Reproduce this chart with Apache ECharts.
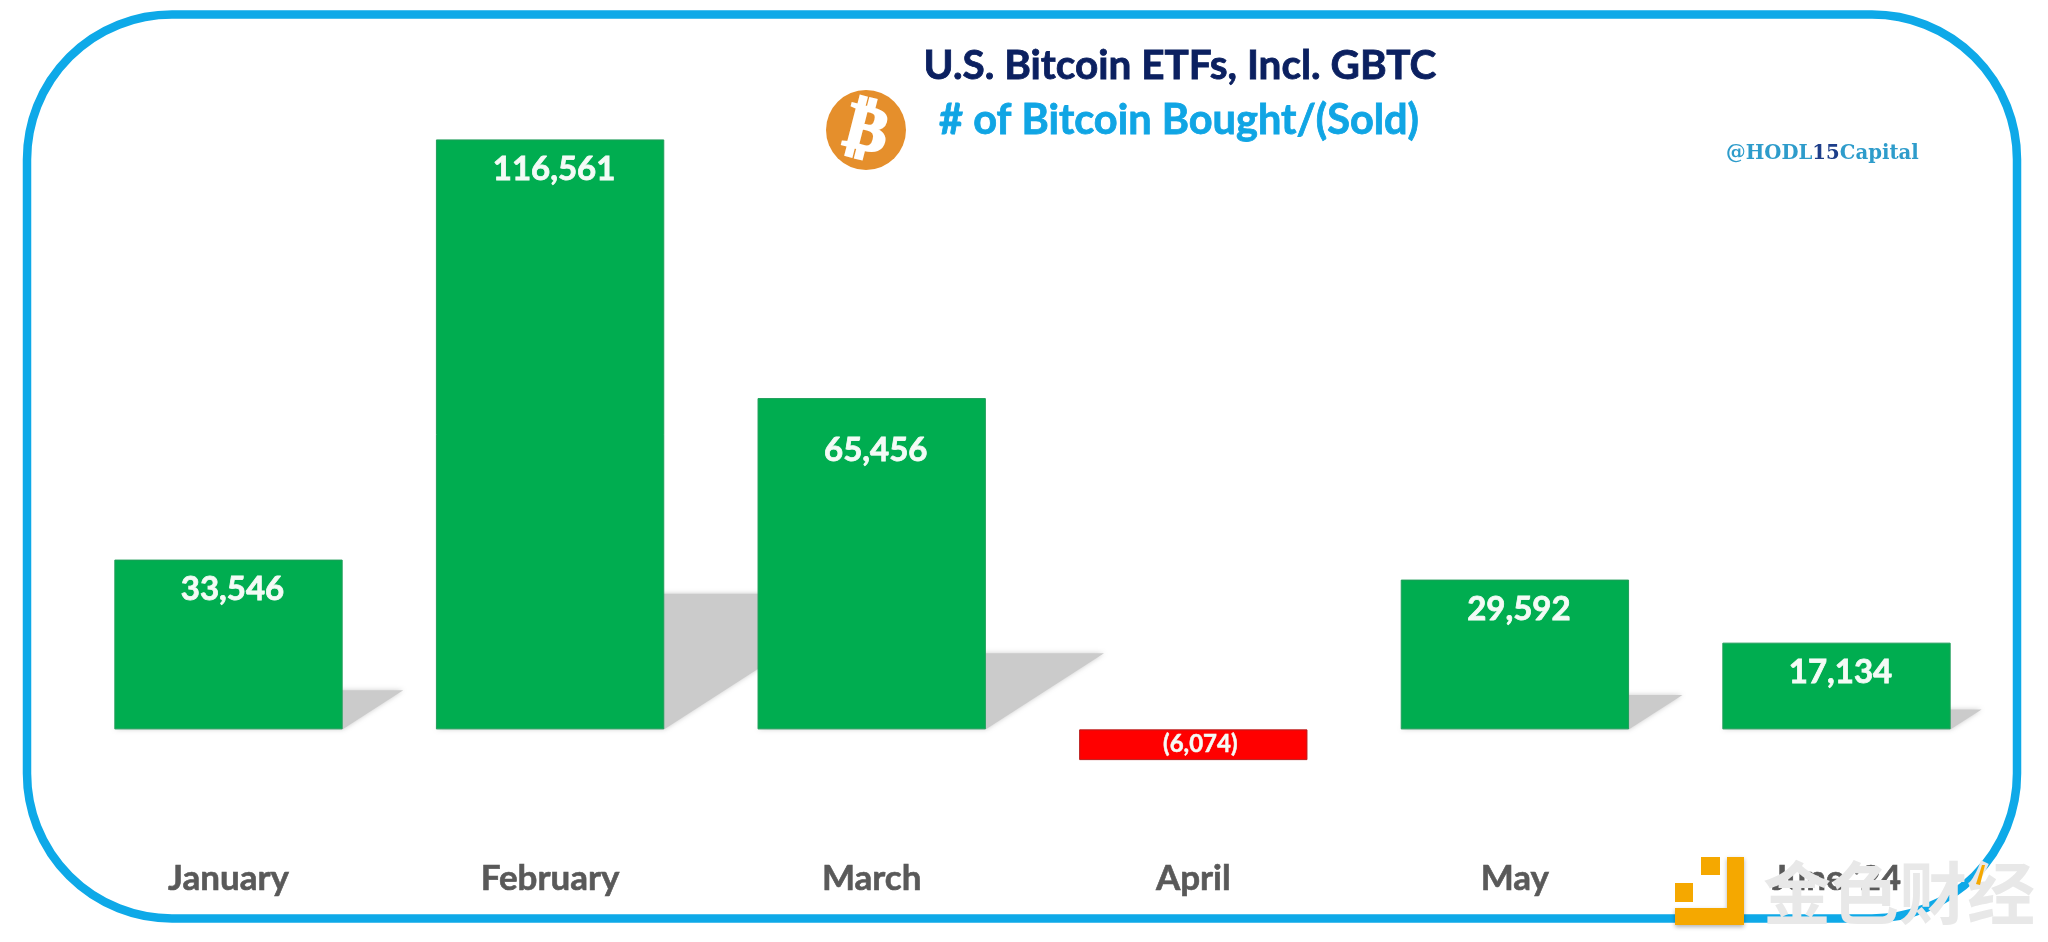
<!DOCTYPE html>
<html>
<head>
<meta charset="utf-8">
<style>html,body{margin:0;padding:0;background:#fff}#c{width:2048px;height:942px}</style>
<script src="https://cdn.jsdelivr.net/npm/echarts@6/dist/echarts.min.js"></script>
</head>
<body>
<div id="c"></div>
<script>
const categories = ["January", "February", "March", "April", "May", "June '24"];
const bitcoinFlows = [33546, 116561, 65456, -6074, 29592, 17134];
const titleText = "U.S. Bitcoin ETFs, Incl. GBTC";
const subtitleText = "# of Bitcoin Bought/(Sold)";
const watermarkText = "金色财经";

const SHADOW_RATIO = 0.23, SHADOW_SLANT = 1.55, BAR_FRACTION = 0.71;
const fmt = v => { const s = Math.abs(v).toLocaleString('en-US'); return v < 0 ? '(' + s + ')' : s; };
const FONT = 'Lato, "Open Sans", sans-serif';

const barData = bitcoinFlows.map((v, i) => {
  const neg = v < 0;
  return {
    value: v,
    itemStyle: { color: neg ? '#FF0000' : '#00AD50', borderColor: neg ? '#B81C1C' : '#1F9E5A', borderWidth: 1 },
    label: {
      show: true, formatter: p => fmt(p.value), color: '#F4FBF6', fontFamily: FONT, fontWeight: 'bold',
      fontSize: neg ? 24 : 33, textBorderColor: '#F4FBF6', textBorderWidth: neg ? 0.5 : 0.8,
      position: neg ? 'inside' : 'insideTop',
      distance: i === 2 ? 36 : 13.5,
      offset: [neg ? 7 : 4, 0]
    }
  };
});

const chart = echarts.init(document.getElementById('c'), null, { renderer: 'canvas' });
chart.setOption({
  animation: false,
  backgroundColor: '#fff',
  grid: { left: 67.7, width: 1929.6, top: 122, height: 708.6, containLabel: false },
  xAxis: {
    type: 'category', data: categories,
    axisLine: { show: false }, axisTick: { show: false }, splitLine: { show: false },
    axisLabel: { color: '#595959', fontFamily: FONT, fontWeight: 'bold', fontSize: 35, margin: 31,
      interval: 0, textBorderColor: '#595959', textBorderWidth: 0.6 }
  },
  yAxis: { type: 'value', min: -20000, max: 120000, show: false, splitLine: { show: false } },
  series: [
    {
      type: 'custom', z: 1, silent: true, clip: false,
      data: bitcoinFlows.map((v, i) => [i, v]),
      encode: { x: 0, y: 1 },
      renderItem: (params, api) => {
        const v = api.value(1);
        if (v <= 0) return null;
        const base = api.coord([api.value(0), 0]);
        const top = api.coord([api.value(0), v * SHADOW_RATIO]);
        const w = api.size([1, 0])[0] * BAR_FRACTION;
        const h = base[1] - top[1], dx = h * SHADOW_SLANT;
        const l = base[0] - w / 2, r = base[0] + w / 2;
        return {
          type: 'polygon',
          shape: { points: [[l, base[1]], [r, base[1]], [r + dx, top[1]], [l + dx, top[1]]] },
          style: { fill: '#CBCBCB', shadowBlur: 5, shadowColor: 'rgba(190,190,190,0.8)' }
        };
      }
    },
    { type: 'bar', z: 3, barWidth: '71%', data: barData }
  ],
  graphic: { elements: [
    { type: 'rect', z: 0, shape: { x: 27, y: 14.5, width: 1990, height: 904, r: 145 },
      style: { fill: 'none', stroke: '#0EA9E8', lineWidth: 8.5 } },
    { type: 'text', z: 10, style: { text: titleText, x: 1180, y: 66, align: 'center', verticalAlign: 'middle',
        fill: '#0B2060', stroke: '#0B2060', lineWidth: 0.8, font: 'bold 40.5px ' + FONT } },
    { type: 'text', z: 10, style: { text: subtitleText, x: 1179, y: 121, align: 'center', verticalAlign: 'middle',
        fill: '#10A5E4', stroke: '#10A5E4', lineWidth: 0.8, font: 'bold 41.5px ' + FONT } },
    { type: 'circle', z: 10, shape: { cx: 866, cy: 130, r: 40 }, style: { fill: '#E58F2C' } },
    { type: 'text', z: 11, x: 866, y: 133, rotation: -0.25,
      style: { text: '₿', x: 0, y: 0, align: 'center', verticalAlign: 'middle', fill: '#fff', stroke: '#fff', lineWidth: 2.5, font: 'bold 64px "DejaVu Sans"' } },
    { type: 'text', z: 10, style: { x: 1726, y: 154, verticalAlign: 'middle', rich: {
        a: { fill: '#2E9CCB', font: 'bold 19.7px "DejaVu Serif"' },
        b: { fill: '#1D3E8A', font: 'bold 19.7px "DejaVu Serif"' } },
        text: '{a|@HODL}{b|15}{a|Capital}' } },
    { type: 'polygon', z: 20, shape: { points: [[1675, 908], [1727, 908], [1727, 857], [1744, 857], [1744, 925], [1675, 925]] },
      style: { fill: '#F5A800', shadowBlur: 4, shadowColor: 'rgba(0,0,0,.3)', shadowOffsetY: 2 } },
    { type: 'rect', z: 20, shape: { x: 1701, y: 857, width: 19, height: 18 }, style: { fill: '#F5A800' } },
    { type: 'rect', z: 20, shape: { x: 1675, y: 883, width: 18, height: 19 }, style: { fill: '#F5A800' } },
    { type: 'text', z: 21, style: { text: watermarkText, x: 1763, y: 893, verticalAlign: 'middle',
        fill: '#E8E8E8', font: 'bold 68px "Noto Sans CJK SC"',
        shadowBlur: 4, shadowColor: 'rgba(0,0,0,.55)', shadowOffsetX: 1, shadowOffsetY: 2 } },
    { type: 'polygon', z: 22, shape: { points: [[1976, 884], [1982, 865], [1985, 865], [1980, 885]] }, style: { fill: '#F5A800' } }
  ] }
});
</script>
</body>
</html>
